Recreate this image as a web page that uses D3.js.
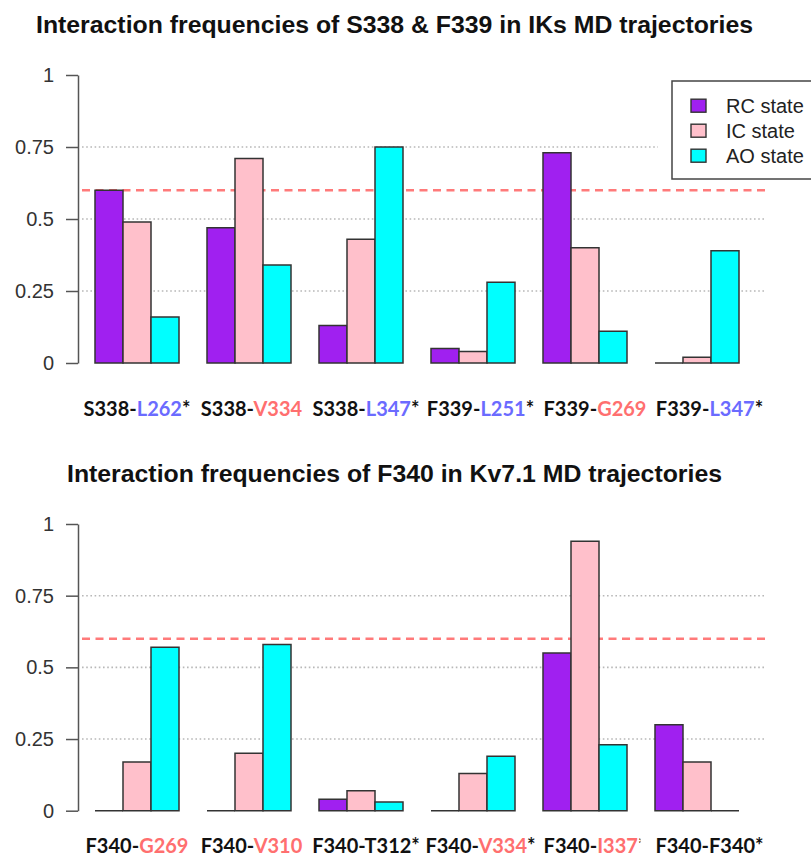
<!DOCTYPE html>
<html>
<head>
<meta charset="utf-8">
<script src="https://cdn.jsdelivr.net/npm/d3@7"></script>
<style>
  html, body { margin: 0; padding: 0; background: #fff; }
  svg { display: block; }
</style>
</head>
<body>
<svg id="chart" width="811" height="857"></svg>
<script>
// ---- data ----
const seriesNames = ["RC state", "IC state", "AO state"];
const seriesColors = ["#a020f0", "#ffc0cb", "#00ffff"];

const yTicks = [0, 0.25, 0.5, 0.75, 1];
const yTickLabels = ["0", "0.25", "0.5", "0.75", "1"];
const gridValues = [0.25, 0.5, 0.75];
const threshold = 0.6;

// Panel 1: S338 & F339 (IKs)
const topTitle = "Interaction frequencies of S338 & F339 in IKs MD trajectories";
const topResidues = ["S338", "S338", "S338", "F339", "F339", "F339"];
const topPartners = ["L262", "V334", "L347", "L251", "G269", "L347"];
const topPartnerKind = ["blue", "red", "blue", "blue", "red", "blue"];
const topStar = [true, false, true, true, false, true];
const topRC = [0.60, 0.47, 0.13, 0.05, 0.73, 0.00];
const topIC = [0.49, 0.71, 0.43, 0.04, 0.40, 0.02];
const topAO = [0.16, 0.34, 0.75, 0.28, 0.11, 0.39];

// Panel 2: F340 (Kv7.1)
const bottomTitle = "Interaction frequencies of F340 in Kv7.1 MD trajectories";
const bottomResidues = ["F340", "F340", "F340", "F340", "F340", "F340"];
const bottomPartners = ["G269", "V310", "T312", "V334", "I337", "F340"];
const bottomPartnerKind = ["red", "red", "black", "red", "red", "black"];
const bottomStar = [false, false, true, true, true, true];
const bottomRC = [0.00, 0.00, 0.04, 0.00, 0.55, 0.30];
const bottomIC = [0.17, 0.20, 0.07, 0.13, 0.94, 0.17];
const bottomAO = [0.57, 0.58, 0.03, 0.19, 0.23, 0.00];

// ---- drawing ----
const kindColor = { blue: "#6b6bff", red: "#ff6f6f", black: "#111" };
const svg = d3.select("#chart");

const panels = [
  { title: topTitle, titleX: 36, titleY: 33, titleW: 717,
    residues: topResidues, partners: topPartners, kinds: topPartnerKind, stars: topStar,
    values: [topRC, topIC, topAO], yBottom: 363, yTop: 75, labelY: 416, legend: true },
  { title: bottomTitle, titleX: 67, titleY: 482, titleW: 655,
    residues: bottomResidues, partners: bottomPartners, kinds: bottomPartnerKind, stars: bottomStar,
    values: [bottomRC, bottomIC, bottomAO], yBottom: 810.7, yTop: 524, labelY: 853, legend: false }
];

const axisX = 78;
const lineX0 = 82, lineX1 = 765;

panels.forEach((p, pi) => {
  const g = svg.append("g");
  const cats = p.residues.map((r, i) => r + "-" + p.partners[i] + (p.stars[i] ? "*" : ""));

  const y = d3.scaleLinear().domain([0, 1]).range([p.yBottom, p.yTop]);
  const x = d3.scaleBand().domain(cats).range([95, 739]).paddingInner(0.25).paddingOuter(0);
  const xs = d3.scaleBand().domain(seriesNames).range([0, x.bandwidth()]).padding(0);

  // title
  g.append("text")
    .attr("x", p.titleX).attr("y", p.titleY)
    .attr("textLength", p.titleW).attr("lengthAdjust", "spacingAndGlyphs")
    .style("font-family", "'Liberation Sans', Arial, sans-serif")
    .style("font-weight", "bold").style("font-size", "23px").style("fill", "#111")
    .text(p.title);

  // dotted grid
  g.selectAll(".grid").data(gridValues).join("line")
    .attr("x1", lineX0).attr("x2", lineX1)
    .attr("y1", d => y(d)).attr("y2", d => y(d))
    .attr("stroke", "#b8b8b8").attr("stroke-width", 1.6)
    .attr("stroke-dasharray", "1.6,2.6");

  // threshold line
  g.append("line")
    .attr("x1", lineX0).attr("x2", lineX1)
    .attr("y1", y(threshold)).attr("y2", y(threshold))
    .attr("stroke", "#ff7a7a").attr("stroke-width", 2.6)
    .attr("stroke-dasharray", "8,5.5");

  // bars (drawn as paths so zero-height bars still show as a line)
  const bars = [];
  cats.forEach((c, i) => {
    seriesNames.forEach((s, si) => {
      bars.push({ cat: c, series: s, color: seriesColors[si], value: p.values[si][i] });
    });
  });
  g.selectAll(".bar").data(bars).join("path")
    .attr("d", d => {
      const x0 = x(d.cat) + xs(d.series), w = xs.bandwidth();
      const y0 = y(0), y1 = y(d.value);
      return `M${x0},${y0}V${y1}H${x0 + w}V${y0}Z`;
    })
    .attr("fill", d => d.color)
    .attr("stroke", "#333").attr("stroke-width", 1.5)
    .attr("stroke-linejoin", "miter");

  // y axis
  const axis = d3.axisLeft(y).tickValues(yTicks)
    .tickFormat((d, i) => yTickLabels[i])
    .tickSize(12).tickSizeOuter(0).tickPadding(12);
  const ag = g.append("g").attr("transform", `translate(${axisX},0)`).call(axis);
  ag.selectAll("path, line").attr("stroke", "#555").attr("stroke-width", 1.5);
  ag.selectAll("text")
    .style("font-family", "'Liberation Sans', Arial, sans-serif")
    .style("font-size", "20px").style("fill", "#333");

  // category labels
  cats.forEach((c, i) => {
    const cx = x(c) + x.bandwidth() / 2 + i * 2.5;
    const t = g.append("text")
      .attr("x", cx).attr("y", p.labelY)
      .attr("text-anchor", "middle")
      .style("font-family", "Lato, 'Open Sans', sans-serif")
      .style("font-weight", 700).style("font-size", "20px").style("fill", "#111");
    t.append("tspan").text(p.residues[i] + "-");
    t.append("tspan").style("fill", kindColor[p.kinds[i]]).text(p.partners[i]);
    if (p.stars[i]) t.append("tspan").text("*");
    // the I337 label box is narrower than its text: the asterisk gets cut
    if (p.partners[i] === "I337") {
      const bb = t.node().getBBox();
      const id = "clip-" + pi + "-" + i;
      svg.append("clipPath").attr("id", id).append("rect")
        .attr("x", bb.x - 2).attr("y", bb.y - 2)
        .attr("width", bb.width - 4).attr("height", bb.height + 4);
      t.attr("clip-path", `url(#${id})`);
    }
  });

  // legend
  if (p.legend) {
    const lg = g.append("g");
    lg.append("rect").attr("x", 658).attr("y", 76).attr("width", 160).attr("height", 108)
      .attr("fill", "#fff");
    lg.append("rect").attr("x", 672).attr("y", 81).attr("width", 150).attr("height", 98)
      .attr("fill", "#fff").attr("stroke", "#444").attr("stroke-width", 1.5);
    seriesNames.forEach((s, si) => {
      const cy = 105.7 + si * 25;
      lg.append("rect").attr("x", 691).attr("y", cy - 6.5).attr("width", 15).attr("height", 13)
        .attr("fill", seriesColors[si]).attr("stroke", "#333").attr("stroke-width", 1.4);
      lg.append("text").attr("x", 726).attr("y", cy + 7)
        .style("font-family", "'Liberation Sans', Arial, sans-serif")
        .style("font-size", "20px").style("fill", "#222")
        .text(s);
    });
  }
});
</script>
</body>
</html>
